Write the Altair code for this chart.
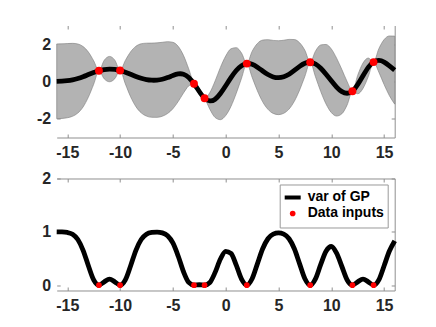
import altair as alt
import pandas as pd

# ---- data ----
xs = [-16.0, -15.5, -15.0, -14.5, -14.0, -13.5, -13.0, -12.5, -12.0, -11.5, -11.0, -10.5,
      -10.0, -9.5, -9.0, -8.5, -8.0, -7.5, -7.0, -6.5, -6.0, -5.5, -5.0, -4.5, -4.0, -3.5,
      -3.0, -2.5, -2.0, -1.5, -1.0, -0.5, 0.0, 0.5, 1.0, 1.5, 2.0, 2.5, 3.0, 3.5, 4.0, 4.5,
      5.0, 5.5, 6.0, 6.5, 7.0, 7.5, 8.0, 8.5, 9.0, 9.5, 10.0, 10.5, 11.0, 11.5, 12.0, 12.5,
      13.0, 13.5, 14.0, 14.5, 15.0, 15.5, 16.0]
gp_mean = [0.01, 0.02, 0.045, 0.09, 0.16, 0.255, 0.37, 0.48, 0.575, 0.64, 0.665, 0.647,
           0.59, 0.50, 0.385, 0.27, 0.17, 0.10, 0.07, 0.075, 0.12, 0.21, 0.32, 0.405, 0.39, 0.22,
           -0.12, -0.535, -0.90, -1.04, -0.95, -0.645, -0.23, 0.21, 0.59, 0.85, 0.96, 0.92, 0.77, 0.565, 0.375, 0.245,
           0.205, 0.255, 0.39, 0.595, 0.81, 0.975, 1.03, 0.94, 0.71, 0.39, 0.04, -0.30, -0.545, -0.63, -0.52, -0.16,
           0.31, 0.76, 1.04, 1.13, 1.04, 0.84, 0.61]
gp_var = [1.0, 0.998, 0.988, 0.954, 0.856, 0.654, 0.364, 0.099, 0.0, 0.062, 0.115, 0.062,
          0.0, 0.099, 0.364, 0.654, 0.856, 0.954, 0.988, 0.996, 0.980, 0.926, 0.791, 0.547, 0.256, 0.052,
          0.0, 0.008, 0.0, 0.050, 0.240, 0.490, 0.635, 0.595, 0.375, 0.113, 0.0, 0.120, 0.400, 0.683, 0.870, 0.957,
          0.980, 0.957, 0.870, 0.683, 0.400, 0.120, 0.0, 0.118, 0.390, 0.635, 0.725, 0.600, 0.350, 0.097, 0.0, 0.062,
          0.115, 0.062, 0.0, 0.099, 0.364, 0.640, 0.830]
data_x = [-12, -10, -3, -2, 2, 8, 12, 14]
data_y = [0.575, 0.59, -0.12, -0.90, 0.96, 1.03, -0.52, 1.04]
x_ticks = [-15, -10, -5, 0, 5, 10, 15]
top_y_ticks = [-2, 0, 2]
bot_y_ticks = [0, 1, 2]
series_names = ["var of GP", "Data inputs"]

curve = pd.DataFrame({"x": xs, "mean": gp_mean, "variance": gp_var})
pts = pd.DataFrame({"x": data_x, "y": data_y, "zero": [0] * len(data_x),
                    "series": [series_names[1]] * len(data_x)})

W, H = 338, 112
FONT = "Liberation Sans"
LINE_C = "#8f8f8f"
TICK_LEN = 3.5

xscale = alt.Scale(domain=[-16, 16], nice=False, zero=False)


def lab_axis(orient, values, extent=None):
    kw = dict(orient=orient, values=values, ticks=False, domain=(orient == "bottom"),
              domainColor=LINE_C, domainWidth=1, grid=False, labelFont=FONT,
              labelFontSize=16, labelFontWeight="bold", labelColor="#262626",
              labelPadding=(7 if orient == "bottom" else 6),
              labelExpr="'' + datum.value", title=None)
    if extent is not None:
        kw.update(minExtent=extent, maxExtent=extent)
    return alt.Axis(**kw)


def tick_axis(orient, values, offset, domain):
    return alt.Axis(orient=orient, values=values, offset=offset, labels=False, ticks=True,
                    tickSize=TICK_LEN, tickColor=LINE_C, tickWidth=1, domain=domain,
                    domainColor=LINE_C, domainWidth=1, grid=False, title=None,
                    minExtent=0, maxExtent=0)


# ---------------- top panel ----------------
yscale_t = alt.Scale(domain=[-3, 3], nice=False, zero=False)

band = alt.Chart(curve).transform_calculate(
    upper="datum.mean + 2*sqrt(datum.variance)",
    lower="datum.mean - 2*sqrt(datum.variance)",
).mark_area(fill="#b3b3b3", stroke="#7a7a7a", strokeWidth=0.6, opacity=1,
            interpolate="monotone").encode(
    x=alt.X("x:Q", scale=xscale, axis=lab_axis("bottom", x_ticks)),
    y=alt.Y("lower:Q", scale=yscale_t, axis=lab_axis("left", top_y_ticks, 24)),
    y2="upper:Q",
)

mean_line = alt.Chart(curve).mark_line(color="black", strokeWidth=4.8,
                                       interpolate="natural").encode(
    x=alt.X("x:Q", scale=xscale, axis=tick_axis("top", x_ticks, -H, False)),
    y=alt.Y("mean:Q", scale=yscale_t, axis=tick_axis("right", top_y_ticks, -W, False)),
)

dots_t = alt.Chart(pts).mark_circle(color="red", size=62, opacity=1).encode(
    x=alt.X("x:Q", scale=xscale, axis=tick_axis("bottom", x_ticks, -H, False)),
    y=alt.Y("y:Q", scale=yscale_t, axis=tick_axis("left", top_y_ticks, -W, True)),
)

top = alt.layer(band, mean_line, dots_t).resolve_axis(
    x="independent", y="independent").properties(width=W, height=H)

# ---------------- bottom panel ----------------
yscale_b = alt.Scale(domain=[-0.1, 2], nice=False, zero=False)
legend = alt.Legend(
    title=None, orient="none", legendX=223, legendY=6, direction="vertical",
    padding=3, strokeColor="#9a9a9a", fillColor="white", cornerRadius=0,
    labelFont=FONT, labelFontSize=14, labelFontWeight="bold", labelColor="black",
    labelOffset=5, rowPadding=-3, symbolStrokeWidth=4,
)

var_line = alt.Chart(curve).transform_calculate(series="'var of GP'").mark_line(
    strokeWidth=4.8, interpolate="monotone").encode(
    x=alt.X("x:Q", scale=xscale, axis=lab_axis("bottom", x_ticks)),
    y=alt.Y("variance:Q", scale=yscale_b, axis=lab_axis("left", bot_y_ticks, 24)),
    stroke=alt.Stroke("series:N", scale=alt.Scale(domain=series_names,
                                                  range=["black", "transparent"]),
                      legend=legend),
)

dots_b = alt.Chart(pts).mark_point(filled=True, opacity=1, strokeWidth=0).encode(
    x=alt.X("x:Q", scale=xscale, axis=tick_axis("top", x_ticks, -H, False)),
    y=alt.Y("zero:Q", scale=yscale_b, axis=tick_axis("right", bot_y_ticks, -W, False)),
    fill=alt.Fill("series:N", scale=alt.Scale(domain=series_names, range=["black", "red"]),
                  legend=legend),
    shape=alt.Shape("series:N", scale=alt.Scale(domain=series_names,
                                                range=["stroke", "circle"]),
                    legend=legend),
    size=alt.Size("series:N", scale=alt.Scale(type="point", domain=series_names,
                                              range=[256, 32]),
                  legend=legend),
)

frame_b = alt.Chart(pts).mark_point(opacity=0).encode(
    x=alt.X("x:Q", scale=xscale, axis=tick_axis("bottom", x_ticks, -H, True)),
    y=alt.Y("zero:Q", scale=yscale_b, axis=tick_axis("left", bot_y_ticks, -W, True)),
)

bottom = alt.layer(var_line, dots_b, frame_b).resolve_axis(
    x="independent", y="independent").properties(width=W, height=H)

chart = alt.vconcat(top, bottom, spacing=10).resolve_legend(
    stroke="independent", fill="independent", shape="independent", size="independent"
).properties(
    padding={"left": 24.7, "top": 16.5, "right": 5, "bottom": 0},
    background="white",
).configure_view(stroke=None)

chart.save("out.html", embed_options={"renderer": "svg", "actions": False})
